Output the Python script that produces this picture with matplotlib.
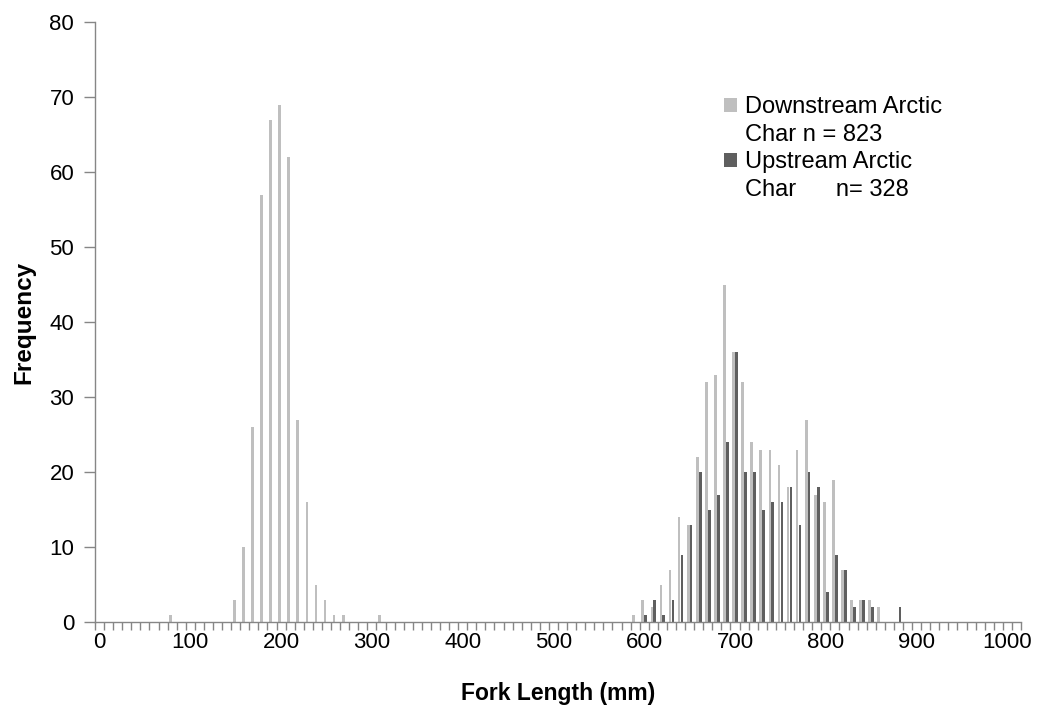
import matplotlib
matplotlib.use('Agg')
import matplotlib.pyplot as plt
from matplotlib.patches import Rectangle

plt.rcParams['font.family'] = ['Liberation Sans', 'DejaVu Sans']

# fork length bins (mm) and counts
down_bins = [80, 150, 160, 170, 180, 190, 200, 210, 220, 230, 240, 250, 260, 270, 310,
             590, 600, 610, 620, 630, 640, 650, 660, 670, 680, 690, 700, 710, 720,
             730, 740, 750, 760, 770, 780, 790, 800, 810, 820, 830, 840, 850, 860]
down_counts = [1, 3, 10, 26, 57, 67, 69, 62, 27, 16, 5, 3, 1, 1, 1,
               1, 3, 2, 5, 7, 14, 13, 22, 32, 33, 45, 36, 32, 24,
               23, 23, 21, 18, 23, 27, 17, 16, 19, 7, 3, 3, 3, 2]

up_bins = [600, 610, 620, 630, 640, 650, 660, 670, 680, 690, 700, 710, 720,
           730, 740, 750, 760, 770, 780, 790, 800, 810, 820, 830, 840, 850, 880]
up_counts = [1, 3, 1, 3, 9, 13, 20, 15, 17, 24, 36, 20, 20,
             15, 16, 16, 18, 13, 20, 18, 4, 9, 7, 2, 3, 2, 2]

x_labels = ['0', '100', '200', '300', '400', '500', '600', '700', '800', '900', '1000']

light = '#bfbfbf'
dark = '#5f5f5f'
axis_col = '#868686'

fig = plt.figure(figsize=(10.39, 7.09), dpi=100)
ax = fig.add_axes([95 / 1039, 1 - 622 / 709, 926 / 1039, 600 / 709])

bw = 3.0
ax.bar([b - 1.6 for b in down_bins], down_counts, width=bw, color=light, linewidth=0)
ax.bar([b + 1.6 for b in up_bins], up_counts, width=bw, color=dark, linewidth=0)

ax.set_xlim(-5, 1015)
ax.set_ylim(0, 80)
ax.set_yticks(range(0, 81, 10))

# category-axis style: labels at centres, tick marks at bin boundaries
ax.set_xticks(range(0, 1001, 100))
ax.set_xticklabels(x_labels)
ax.tick_params(axis='x', which='major', length=0, pad=7)
ax.set_xticks([-5 + 10 * i for i in range(103)], minor=True)
ax.tick_params(axis='x', which='minor', length=6, width=1, color=axis_col, direction='out')
ax.tick_params(axis='y', length=8, width=1, color=axis_col, pad=7)
ax.tick_params(labelsize=16)

for s in ['top', 'right']:
    ax.spines[s].set_visible(False)
for s in ['left', 'bottom']:
    ax.spines[s].set_color(axis_col)
    ax.spines[s].set_linewidth(1)

ax.set_xlabel('Fork Length (mm)', fontsize=16.5, fontweight='bold', labelpad=21)
ax.set_ylabel('Frequency', fontsize=17.5, fontweight='bold', labelpad=10)

blank = Rectangle((0, 0), 1, 1, facecolor='none', edgecolor='none')
handles = [Rectangle((0, 0), 1, 1, facecolor=light, edgecolor='none'), blank,
           Rectangle((0, 0), 1, 1, facecolor=dark, edgecolor='none'), blank]
labels = ['Downstream Arctic', 'Char n = 823', 'Upstream Arctic', 'Char      n= 328']
ax.legend(handles, labels, loc='upper left', bbox_to_anchor=(0.669, 0.892),
          frameon=False, fontsize=17, handlelength=0.55, handleheight=0.55,
          handletextpad=0.35, labelspacing=0.23, borderaxespad=0)

fig.savefig('out.png', dpi=100, facecolor='white')
